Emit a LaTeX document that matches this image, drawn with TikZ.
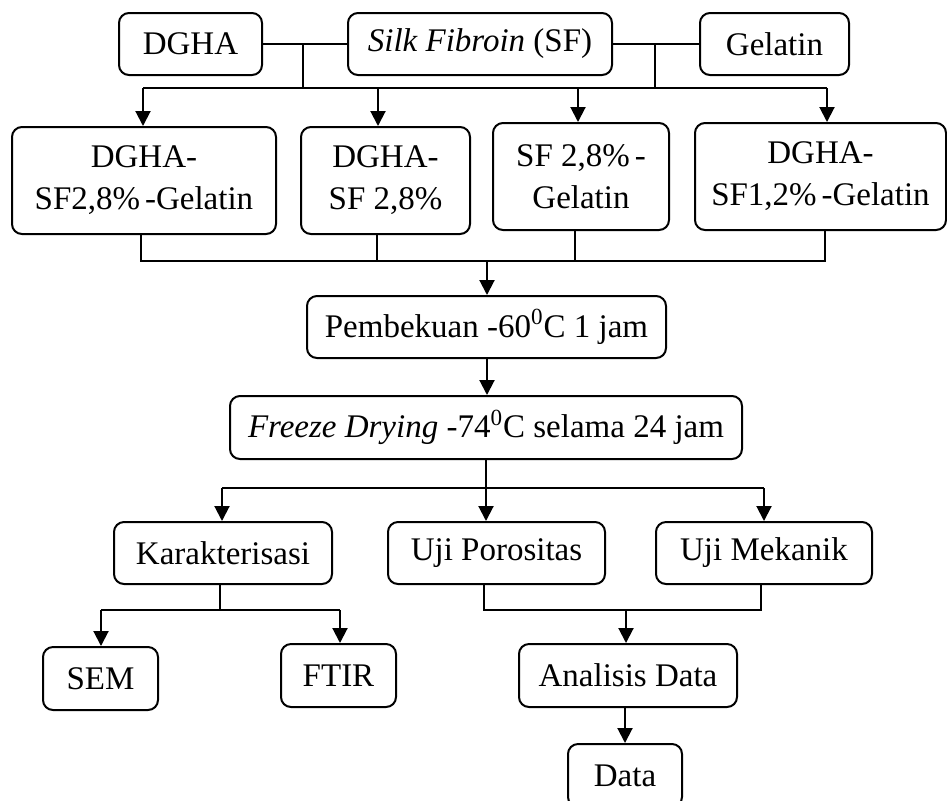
\documentclass[tikz,border=0pt]{standalone}
\usepackage{fontspec}
\setmainfont{Liberation Serif}
\usetikzlibrary{arrows.meta}
\begin{document}
\begin{tikzpicture}[x=0.5pt,y=-0.5pt,
  box/.style={draw, rounded corners=5pt, line width=1pt, inner sep=0pt, align=center,
    font=\fontsize{16.5}{21}\selectfont},
  sz/.style 2 args={minimum width=#1*0.5pt, minimum height=#2*0.5pt},
  link/.style={line width=1pt},
  arr/.style={line width=1pt, -{Triangle[length=7.5pt,width=7.5pt]}}]
\useasboundingbox[fill=white] (0,0) rectangle (947,800);
% top row
\node[box, sz={143}{62}] (dgha) at (190.5,44) {DGHA};
\node[box, sz={264}{62}] (sf) at (480,44) {\textit{Silk Fibroin} (SF)};
\node[box, sz={149}{62}] (gel) at (774.5,44) {Gelatin};
% second row
\node[box, sz={264}{107}] (b1) at (144,180.5) {DGHA-\\SF2,8\%\hspace{0.15em}-Gelatin};
\node[box, sz={169}{107}] (b2) at (385.5,180.5) {DGHA-\\SF 2,8\%};
\node[box, sz={176}{107}] (b3) at (581,176.5) {SF 2,8\%\hspace{0.15em}-\\Gelatin};
\node[box, sz={251}{107}] (b4) at (820.5,176.5) {DGHA-\\SF1,2\%\hspace{0.15em}-Gelatin};
% middle
\node[box, sz={359}{62}] (pem) at (486.5,327) {Pembekuan -60\textsuperscript{0}C 1 jam};
\node[box, sz={512}{63}] (fd) at (486,427.5) {\textit{Freeze Drying} -74\textsuperscript{0}C selama 24 jam};
% third row
\node[box, sz={218}{62}] (kar) at (223,553) {Karakterisasi};
\node[box, sz={217}{62}] (up) at (496.5,553) {Uji Porositas};
\node[box, sz={216}{62}] (um) at (764,553) {Uji Mekanik};
% bottom
\node[box, sz={115}{63}] (sem) at (100.5,678.5) {SEM};
\node[box, sz={115}{63}] (ftir) at (338.5,675.5) {FTIR};
\node[box, sz={218}{63}] (ana) at (628,675.5) {Analisis Data};
\node[box, sz={114}{63}] (data) at (625,775.5) {Data};
% coordinates
\coordinate (j1) at (303,44);
\coordinate (j2) at (655,44);
\coordinate (ja) at (303,88);
\coordinate (jb) at (655,88);
\coordinate (t1) at (143,88);
\coordinate (t2) at (378,88);
\coordinate (t3) at (578,88);
\coordinate (t4) at (827,88);
\coordinate (l1) at (141,261);
\coordinate (l2) at (377,261);
\coordinate (l3) at (575,261);
\coordinate (l4) at (825,261);
\coordinate (lm) at (487,261);
\coordinate (f0) at (486,488);
\coordinate (f1) at (222,488);
\coordinate (f3) at (764,488);
\coordinate (k0) at (220,610);
\coordinate (k1) at (101,610);
\coordinate (k2) at (340,610);
\coordinate (u1) at (484,610);
\coordinate (u2) at (761,610);
\coordinate (um0) at (626,610);
% top connectors
\draw[link] (dgha.east) -- (sf.west);
\draw[link] (sf.east) -- (gel.west);
\draw[link] (j1) -- (ja);
\draw[link] (j2) -- (jb);
\draw[link] (t1) -- (t4);
\draw[arr] (t1) -- (t1 |- b1.north);
\draw[arr] (t2) -- (t2 |- b2.north);
\draw[arr] (t3) -- (t3 |- b3.north);
\draw[arr] (t4) -- (t4 |- b4.north);
% lower bus
\draw[link] (l1 |- b1.south) -- (l1) -- (l4) -- (l4 |- b4.south);
\draw[link] (l2 |- b2.south) -- (l2);
\draw[link] (l3 |- b3.south) -- (l3);
\draw[arr] (lm) -- (lm |- pem.north);
\draw[arr] (lm |- pem.south) -- (lm |- fd.north);
% freeze drying split
\draw[link] (f0 |- fd.south) -- (f0);
\draw[link] (f1) -- (f3);
\draw[arr] (f1) -- (f1 |- kar.north);
\draw[arr] (f0) -- (f0 |- up.north);
\draw[arr] (f3) -- (f3 |- um.north);
% karakterisasi split
\draw[link] (k0 |- kar.south) -- (k0);
\draw[link] (k1) -- (k2);
\draw[arr] (k1) -- (k1 |- sem.north);
\draw[arr] (k2) -- (k2 |- ftir.north);
% uji merge
\draw[link] (u1 |- up.south) -- (u1) -- (u2) -- (u2 |- um.south);
\draw[arr] (um0) -- (um0 |- ana.north);
\draw[arr] (ana.south -| data.north) -- (data.north);
\end{tikzpicture}
\end{document}
